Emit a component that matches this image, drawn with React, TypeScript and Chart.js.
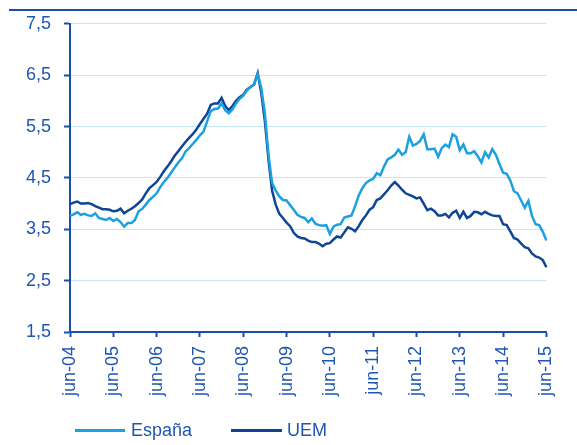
import React, { useEffect, useRef } from "react";
import { Chart, registerables } from "chart.js";

Chart.register(...registerables);

const MONTHS = ["ene", "feb", "mar", "abr", "may", "jun", "jul", "ago", "sep", "oct", "nov", "dic"];
const FIRST_YEAR = 4; // 2004
const FIRST_MONTH = 5; // jun
const N_POINTS = 133;

const labels: string[] = [];
for (let i = 0; i < N_POINTS; i++) {
  const k = FIRST_MONTH + i;
  const yy = FIRST_YEAR + Math.floor(k / 12);
  labels.push(`${MONTHS[k % 12]}-${String(yy).padStart(2, "0")}`);
}

const espana: number[] = [
  3.76, 3.79, 3.83, 3.78, 3.80, 3.77, 3.76, 3.81, 3.72, 3.70, 3.68, 3.72,
  3.66, 3.70, 3.64, 3.55, 3.62, 3.62, 3.68, 3.85, 3.90, 3.98, 4.07, 4.13,
  4.20, 4.32, 4.42, 4.50, 4.60, 4.70, 4.80, 4.88, 5.01, 5.08, 5.16, 5.24,
  5.33, 5.40, 5.60, 5.80, 5.84, 5.85, 5.95, 5.82, 5.76, 5.83, 5.95, 6.04,
  6.10, 6.20, 6.27, 6.32, 6.52, 6.25, 5.75, 4.95, 4.40, 4.25, 4.14, 4.07,
  4.06, 3.97, 3.88, 3.78, 3.74, 3.72, 3.64, 3.71, 3.61, 3.58, 3.57, 3.58,
  3.41, 3.55, 3.59, 3.60, 3.73, 3.75, 3.77, 3.95, 4.16, 4.30, 4.40, 4.45,
  4.48, 4.59, 4.55, 4.72, 4.86, 4.90, 4.95, 5.05, 4.95, 5.00, 5.30, 5.13,
  5.16, 5.22, 5.35, 5.06, 5.06, 5.07, 4.91, 5.08, 5.15, 5.10, 5.35, 5.30,
  5.04, 5.15, 4.98, 4.98, 5.02, 4.92, 4.80, 5.00, 4.90, 5.06, 4.95, 4.77,
  4.60, 4.58, 4.45, 4.24, 4.20, 4.06, 3.92, 4.05, 3.76, 3.60, 3.58, 3.45,
  3.28,
];

const uem: number[] = [
  3.99, 4.02, 4.04, 4.00, 4.00, 4.01, 3.99, 3.95, 3.92, 3.89, 3.89, 3.88,
  3.85, 3.86, 3.90, 3.81, 3.86, 3.90, 3.95, 4.01, 4.08, 4.20, 4.30, 4.36,
  4.42, 4.52, 4.63, 4.72, 4.82, 4.93, 5.02, 5.11, 5.20, 5.28, 5.35, 5.44,
  5.55, 5.65, 5.75, 5.92, 5.95, 5.95, 6.06, 5.90, 5.82, 5.90, 6.00, 6.07,
  6.12, 6.22, 6.27, 6.32, 6.54, 6.15, 5.60, 4.85, 4.25, 3.98, 3.80, 3.72,
  3.63, 3.56, 3.43, 3.36, 3.33, 3.32, 3.28, 3.25, 3.25, 3.22, 3.17, 3.22,
  3.23, 3.30, 3.36, 3.34, 3.44, 3.54, 3.51, 3.46, 3.56, 3.68, 3.77, 3.88,
  3.93, 4.07, 4.10, 4.18, 4.26, 4.35, 4.42, 4.35, 4.27, 4.20, 4.17, 4.14,
  4.10, 4.12, 4.00, 3.87, 3.90, 3.85, 3.77, 3.77, 3.80, 3.73, 3.82, 3.86,
  3.72, 3.84, 3.72, 3.76, 3.84, 3.83, 3.79, 3.84, 3.80, 3.77, 3.76, 3.76,
  3.60, 3.58, 3.46, 3.33, 3.30, 3.22, 3.15, 3.13, 3.03, 2.97, 2.95, 2.90,
  2.76,
];

const seriesNames = ["España", "UEM"];
const Y_MIN = 1.5;
const Y_MAX = 7.5;
const Y_STEP = 1;

const C_ESP = "#1ba1df";
const C_UEM = "#0e4595";
const C_AXIS = "#1a4fa8";
const C_TEXT = "#1f56b4";
const C_GRID = "#c4e6f8";
const FONT = "'Liberation Sans', Arial, Helvetica, sans-serif";

export default function App() {
  const canvasRef = useRef<HTMLCanvasElement | null>(null);

  useEffect(() => {
    const canvas = canvasRef.current;
    if (!canvas) return;
    const chart = new Chart(canvas, {
      type: "line",
      data: {
        labels,
        datasets: [
          { label: seriesNames[0], data: espana, borderColor: C_ESP, backgroundColor: C_ESP, borderWidth: 2.5, pointRadius: 0, tension: 0 },
          { label: seriesNames[1], data: uem, borderColor: C_UEM, backgroundColor: C_UEM, borderWidth: 2.5, pointRadius: 0, tension: 0 },
        ],
      },
      options: {
        animation: false,
        responsive: false,
        maintainAspectRatio: false,
        layout: { padding: { left: 0, right: 28, top: 22, bottom: 0 } },
        plugins: { legend: { display: false }, tooltip: { enabled: false } },
        scales: {
          x: {
            type: "category",
            offset: false,
            afterBuildTicks: (axis: any) => {
              axis.ticks = axis.ticks.filter((t: any) => t.value % 12 === 0);
            },
            afterFit: (axis: any) => {
              axis.height = 113;
            },
            grid: { drawOnChartArea: false, drawTicks: true, tickLength: 5, tickColor: C_AXIS, tickWidth: 2 },
            border: { color: C_AXIS, width: 2 },
            ticks: {
              autoSkip: false,
              maxRotation: 90,
              minRotation: 90,
              padding: 9,
              color: C_TEXT,
              font: { family: FONT, size: 18 },
              callback: function (this: any, v: any) {
                return this.getLabelForValue(v);
              },
            },
          },
          y: {
            min: Y_MIN,
            max: Y_MAX,
            afterFit: (axis: any) => {
              axis.width = 70;
            },
            grid: { color: C_GRID, lineWidth: 1, tickColor: C_AXIS, tickLength: 6, tickWidth: 2 },
            border: { color: C_AXIS, width: 2 },
            ticks: {
              stepSize: Y_STEP,
              padding: 13,
              color: C_TEXT,
              font: { family: FONT, size: 18 },
              callback: (v: any) => Number(v).toFixed(1).replace(".", ","),
            },
          },
        },
      },
    });
    return () => chart.destroy();
  }, []);

  const legendText: React.CSSProperties = {
    position: "absolute",
    top: 421,
    fontFamily: FONT,
    fontSize: 18,
    lineHeight: "18px",
    color: C_TEXT,
    whiteSpace: "nowrap",
  };

  return (
    <div style={{ position: "absolute", left: 0, top: 0, width: 577, height: 445, background: "#fff", overflow: "hidden" }}>
      <div style={{ position: "absolute", left: 9, top: 9, width: 568, height: 2, background: C_AXIS }} />
      <canvas ref={canvasRef} width={577} height={445} style={{ position: "absolute", left: 0, top: 0 }} />
      <div style={{ position: "absolute", left: 75, top: 429, width: 50, height: 3, background: C_ESP }} />
      <div style={{ ...legendText, left: 131 }}>{seriesNames[0]}</div>
      <div style={{ position: "absolute", left: 231, top: 429, width: 51, height: 3, background: C_UEM }} />
      <div style={{ ...legendText, left: 287 }}>{seriesNames[1]}</div>
    </div>
  );
}
